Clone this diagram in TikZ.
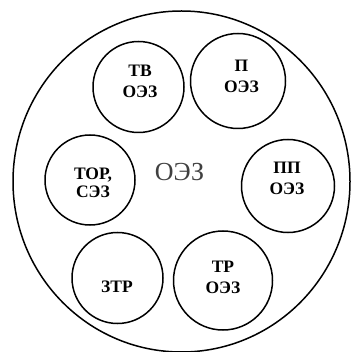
\documentclass[tikz,border=0pt]{standalone}
\usepackage{fontspec}
\setmainfont{Liberation Serif}
\usetikzlibrary{shapes.geometric}

\tikzset{
  zone/.style={draw, circle, line width=1.5pt, inner sep=0pt},
  zonelabel/.style={font=\bfseries\fontsize{17.5}{21}\selectfont, align=center, inner sep=0pt, anchor=base},
  outerzone/.style={draw, ellipse, line width=1.5pt, inner sep=0pt},
  mainlabel/.style={font=\fontsize{26}{30}\selectfont, text=black!75, inner sep=0pt, anchor=base}
}

\begin{document}
\begin{tikzpicture}[x=1pt, y=-1pt]
  \useasboundingbox (0,0) rectangle (355,352);

  % outer zone
  \node[outerzone, minimum width=337pt, minimum height=341pt] (oez) at (181.5,181.5) {};
  \node[mainlabel] (oeztext) at (179.5,181) {ОЭЗ};

  % inner zones
  \node[zone, minimum size=91pt] (tv)  at (138.5,87) {};
  \node[zone, minimum size=95pt] (p)   at (238,81) {};
  \node[zone, minimum size=90pt] (tor) at (90,180) {};
  \node[zone, minimum size=93pt] (pp)  at (288,186) {};
  \node[zone, minimum size=91pt] (ztr) at (117.5,278) {};
  \node[zone, minimum size=99pt] (tr)  at (223,280.5) {};

  % labels of the inner zones (anchored at the baseline of the last line)
  \node[zonelabel] (tvtext)  at (140,98)    {ТВ\\ОЭЗ};
  \node[zonelabel] (ptext)   at (241.5,93)  {П\\ОЭЗ};
  \node[zonelabel, font=\bfseries\fontsize{17.5}{18.5}\selectfont] (tortext) at (93,198) {ТОР,\\СЭЗ};
  \node[zonelabel] (pptext)  at (287,195)   {ПП\\ОЭЗ};
  \node[zonelabel] (ztrtext) at (117,292)   {ЗТР};
  \node[zonelabel] (trtext)  at (223,293)   {ТР\\ОЭЗ};
\end{tikzpicture}
\end{document}
